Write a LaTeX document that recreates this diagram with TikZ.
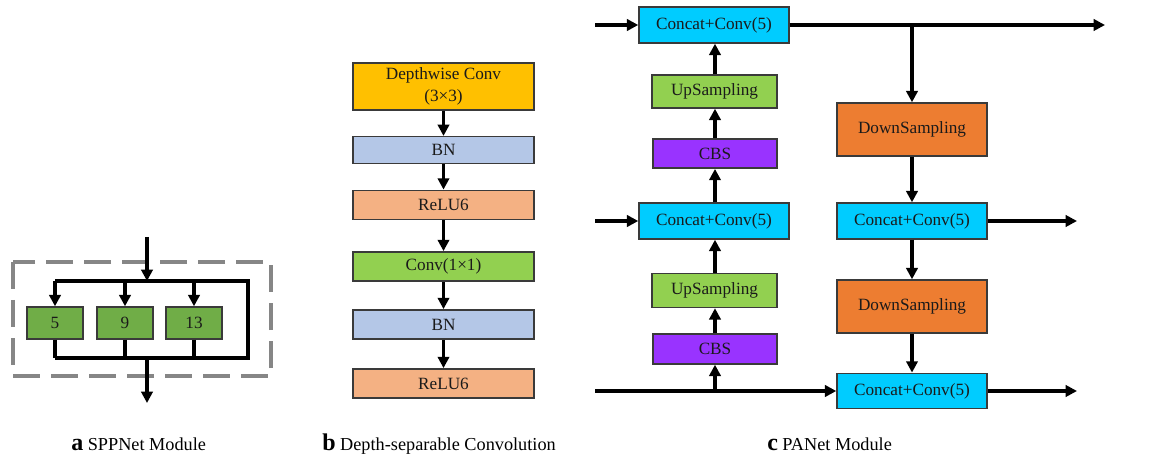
\documentclass[tikz,border=0pt]{standalone}
\usepackage{fontspec}
\setmainfont{Liberation Serif}
\usetikzlibrary{arrows.meta}

\definecolor{sppgreen}{HTML}{70AD47}
\definecolor{dwgold}{HTML}{FFC000}
\definecolor{bnblue}{HTML}{B4C7E7}
\definecolor{relusalmon}{HTML}{F4B183}
\definecolor{convgreen}{HTML}{92D050}
\definecolor{catcyan}{HTML}{00CCFF}
\definecolor{cbspurple}{HTML}{9933FF}
\definecolor{downorange}{HTML}{ED7D31}
\definecolor{edgegray}{HTML}{3A3A3A}
\definecolor{inkdark}{HTML}{1A1A1A}

\tikzset{
  blk/.style={draw=edgegray, line width=1.1pt, rectangle, inner sep=0pt, text=inkdark,
    font=\fontsize{12.9}{15}\selectfont, align=center},
  flow/.style={line width=2.3pt, -{Triangle[length=8.5pt,width=8.5pt]}},
  wire/.style={line width=2.3pt},
  captext/.style={anchor=base west, font=\fontsize{13.7}{16}\selectfont, inner sep=0pt},
}

\begin{document}
\begin{tikzpicture}[x=0.75pt, y=-0.75pt]
\useasboundingbox (0,0) rectangle (1154,456);

% ---------- SPPNet module ----------
\draw[draw=gray!95, line width=2.3pt, dash pattern=on 20pt off 8.5pt] (13,262) rectangle (271,376);
\node[blk, fill=sppgreen, minimum width=42pt, minimum height=24pt] (p5) at (55,323) {5};
\node[blk, fill=sppgreen, minimum width=42pt, minimum height=24pt] (p9) at (125,323) {9};
\node[blk, fill=sppgreen, minimum width=42pt, minimum height=24pt] (p13) at (194,323) {13};
\coordinate (sin) at (147,237);
\coordinate (stop) at (147,281);
\coordinate (tl) at (55,281);
\coordinate (tm) at (125,281);
\coordinate (tr) at (194,281);
\coordinate (tre) at (248,281);
\coordinate (bre) at (248,358);
\coordinate (bl) at (55,358);
\coordinate (bm) at (125,358);
\coordinate (br) at (194,358);
\coordinate (bout) at (147,358);
\coordinate (sout) at (147,403);
\draw[wire, line join=miter] (tl) -- (tre) -- (bre) -- (bl);
\draw[flow] (sin) -- (stop);
\draw[flow] (tl) -- (p5.north);
\draw[flow] (tm) -- (p9.north);
\draw[flow] (tr) -- (p13.north);
\draw[wire] (p5.south) -- (bl);
\draw[wire] (p9.south) -- (bm);
\draw[wire] (p13.south) -- (br);
\draw[flow] (bout) -- (sout);

% ---------- Depth-separable convolution ----------
\node[blk, fill=dwgold, minimum width=135.75pt, minimum height=35.25pt, font=\fontsize{12.9}{16.5}\selectfont] (dw) at (443.5,86.5) {Depthwise Conv\\(3×3)};
\node[blk, fill=bnblue, minimum width=135.75pt, minimum height=20pt] (bn1) at (443.5,150) {BN};
\node[blk, fill=relusalmon, minimum width=135.75pt, minimum height=22pt] (re1) at (443.5,205) {ReLU6};
\node[blk, fill=convgreen, minimum width=135.75pt, minimum height=22pt] (pw) at (443.5,266.5) {Conv(1×1)};
\node[blk, fill=bnblue, minimum width=135.75pt, minimum height=22pt] (bn2) at (443.5,324.5) {BN};
\node[blk, fill=relusalmon, minimum width=135.75pt, minimum height=22pt] (re2) at (443.5,383.5) {ReLU6};
\draw[flow] (dw) -- (bn1);
\draw[flow] (bn1) -- (re1);
\draw[flow] (re1) -- (pw);
\draw[flow] (pw) -- (bn2);
\draw[flow] (bn2) -- (re2);

% ---------- PANet module ----------
\node[blk, fill=catcyan, minimum width=112.5pt, minimum height=27pt] (c1) at (714,25) {Concat+Conv(5)};
\node[blk, fill=convgreen, minimum width=93.75pt, minimum height=24.75pt] (up1) at (714.5,91.5) {UpSampling};
\node[blk, fill=cbspurple, minimum width=93pt, minimum height=22pt] (cbs1) at (715,153.5) {CBS};
\node[blk, fill=catcyan, minimum width=112.5pt, minimum height=27pt] (c2) at (714,221) {Concat+Conv(5)};
\node[blk, fill=convgreen, minimum width=93.75pt, minimum height=25.5pt] (up2) at (714.5,290.5) {UpSampling};
\node[blk, fill=cbspurple, minimum width=93pt, minimum height=22.5pt] (cbs2) at (715,349) {CBS};
\node[blk, fill=downorange, minimum width=112.5pt, minimum height=39.75pt] (dn1) at (912,129.5) {DownSampling};
\node[blk, fill=catcyan, minimum width=112.5pt, minimum height=27pt] (c3) at (912,221) {Concat+Conv(5)};
\node[blk, fill=downorange, minimum width=112.5pt, minimum height=39.75pt] (dn2) at (912,306.5) {DownSampling};
\node[blk, fill=catcyan, minimum width=112.5pt, minimum height=26.5pt] (c4) at (912,391) {Concat+Conv(5)};

\coordinate (in1) at (595,25);
\coordinate (in2) at (595,221);
\coordinate (in3) at (595,391);
\coordinate (out1) at (1105,25);
\coordinate (out2) at (1077,221);
\coordinate (out3) at (1077,391);
\coordinate (split1) at (912,25);
\coordinate (split3) at (715,391);

\draw[flow] (in1) -- (c1.west);
\draw[flow] (c1.east) -- (out1);
\draw[flow] (split1) -- (dn1.north);
\draw[flow] (up1.north -| 715,0) -- (c1.south -| 715,0);
\draw[flow] (cbs1.north) -- (up1.south -| cbs1.north);
\draw[flow] (c2.north -| 715,0) -- (cbs1.south);

\draw[flow] (in2) -- (c2.west);
\draw[flow] (up2.north -| 715,0) -- (c2.south -| 715,0);
\draw[flow] (cbs2.north) -- (up2.south -| cbs2.north);

\draw[flow] (dn1.south) -- (c3.north);
\draw[flow] (c3.east) -- (out2);
\draw[flow] (c3.south) -- (dn2.north);
\draw[flow] (dn2.south) -- (c4.north);

\draw[flow] (in3) -- (c4.west);
\draw[flow] (split3) -- (cbs2.south);
\draw[flow] (c4.east) -- (out3);

% ---------- captions ----------
\node[captext] (capa) at (71,450) {{\fontsize{18}{18}\selectfont\bfseries a} SPPNet Module};
\node[captext] (capb) at (322,450) {{\fontsize{18}{18}\selectfont\bfseries b} Depth-separable Convolution};
\node[captext] (capc) at (767,450) {{\fontsize{18}{18}\selectfont\bfseries c} PANet Module};
\end{tikzpicture}
\end{document}
